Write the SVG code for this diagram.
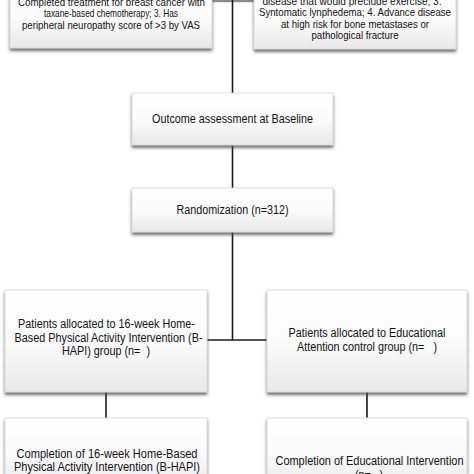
<svg xmlns="http://www.w3.org/2000/svg" width="474" height="474" viewBox="0 0 474 474">
<defs>
<linearGradient id="g" x1="0" y1="0" x2="0" y2="1">
<stop offset="0" stop-color="#ffffff"/>
<stop offset="0.5" stop-color="#fbfbfb"/>
<stop offset="1" stop-color="#e8e8e8"/>
</linearGradient>
<filter id="sh" x="-10%" y="-10%" width="120%" height="130%">
<feDropShadow dx="0" dy="2.5" stdDeviation="1.6" flood-color="#444" flood-opacity="0.8"/>
</filter>
</defs>
<style>
.box{fill:url(#g);stroke:#d8d8d8;stroke-width:0.8;filter:url(#sh)}
.t{font-family:"Liberation Sans",Arial,sans-serif;font-size:12.5px;fill:#111;text-anchor:middle}
.s{font-size:11.5px}
.c{stroke:#1a1a1a;stroke-width:1.6;fill:none}
</style>
<rect width="474" height="474" fill="#ffffff"/>
<g id="connectors">
<rect x="212" y="0" width="42" height="2.2" fill="#8a8a8a"/>
<line class="c" x1="232.5" y1="0" x2="232.5" y2="93"/>
<line class="c" x1="232.5" y1="145" x2="232.5" y2="188"/>
<line class="c" x1="232.5" y1="232" x2="232.5" y2="340"/>
<line class="c" x1="207" y1="340" x2="267" y2="340"/>
<line class="c" x1="106" y1="392" x2="106" y2="418"/>
<line class="c" x1="367" y1="392" x2="367" y2="418"/>
</g>
<g id="exclusion-left">
<rect class="box" x="10" y="-12" width="202" height="60"/>
<text class="t s" x="111.5" y="5.5" textLength="187" lengthAdjust="spacingAndGlyphs">Completed treatment for breast cancer with</text>
<text class="t s" x="111" y="17" textLength="134" lengthAdjust="spacingAndGlyphs">taxane-based chemotherapy; 3. Has</text>
<text class="t s" x="111" y="28.5" textLength="178" lengthAdjust="spacingAndGlyphs">peripheral neuropathy score of &gt;3 by VAS</text>
</g>
<g id="exclusion-right">
<rect class="box" x="254" y="-12" width="202" height="61"/>
<text class="t s" x="352" y="4.5" textLength="179" lengthAdjust="spacingAndGlyphs">disease that would preclude exercise; 3.</text>
<text class="t s" x="355" y="16" textLength="192" lengthAdjust="spacingAndGlyphs">Syntomatic lynphedema; 4. Advance disease</text>
<text class="t s" x="355" y="27.5" textLength="148" lengthAdjust="spacingAndGlyphs">at high risk for bone metastases or</text>
<text class="t s" x="355" y="39" textLength="87" lengthAdjust="spacingAndGlyphs">pathological fracture</text>
</g>
<g id="baseline">
<rect class="box" x="132" y="93" width="201" height="52"/>
<text class="t" x="232.5" y="123" textLength="161" lengthAdjust="spacingAndGlyphs">Outcome assessment at Baseline</text>
</g>
<g id="randomization">
<rect class="box" x="132" y="188" width="201" height="44"/>
<text class="t" x="232.5" y="214" textLength="112" lengthAdjust="spacingAndGlyphs">Randomization (n=312)</text>
</g>
<g id="bhapi-allocated">
<rect class="box" x="5" y="290" width="202" height="102"/>
<text class="t" x="106.5" y="328" textLength="177" lengthAdjust="spacingAndGlyphs">Patients allocated to 16-week Home-</text>
<text class="t" x="108.5" y="341.5" textLength="188" lengthAdjust="spacingAndGlyphs">Based Physical Activity Intervention (B-</text>
<text class="t" x="106" y="355" textLength="88" lengthAdjust="spacingAndGlyphs" xml:space="preserve">HAPI) group (n=  )</text>
</g>
<g id="control-allocated">
<rect class="box" x="267" y="290" width="200" height="102"/>
<text class="t" x="367" y="337" textLength="157" lengthAdjust="spacingAndGlyphs">Patients allocated to Educational</text>
<text class="t" x="367" y="350.5" textLength="140" lengthAdjust="spacingAndGlyphs" xml:space="preserve">Attention control group (n=   )</text>
</g>
<g id="bhapi-completion">
<rect class="box" x="5" y="418" width="202" height="70"/>
<text class="t" x="107" y="458" textLength="181" lengthAdjust="spacingAndGlyphs">Completion of 16-week Home-Based</text>
<text class="t" x="107" y="470.5" textLength="186" lengthAdjust="spacingAndGlyphs">Physical Activity Intervention (B-HAPI)</text>
</g>
<g id="control-completion">
<rect class="box" x="267" y="418" width="200" height="70"/>
<text class="t" x="369.5" y="465" textLength="188" lengthAdjust="spacingAndGlyphs">Completion of Educational Intervention</text>
<text class="t" x="369" y="479" textLength="28" lengthAdjust="spacingAndGlyphs" xml:space="preserve">(n=   )</text>
</g>
</svg>
